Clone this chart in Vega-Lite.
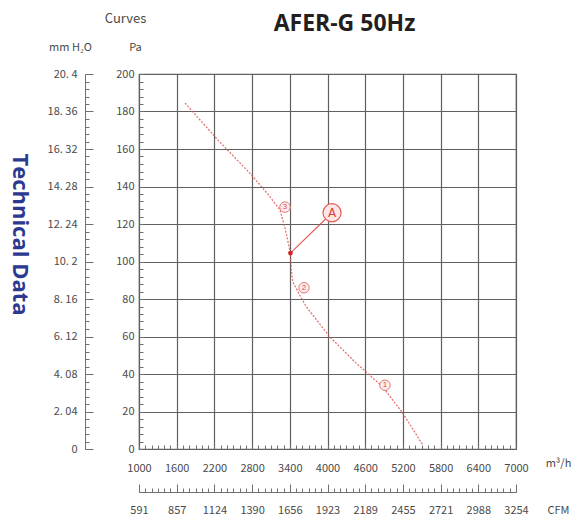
{
  "$schema": "https://vega.github.io/schema/vega-lite/v6.json",
  "width": 377,
  "height": 375,
  "autosize": {"type": "none"},
  "padding": {"left": 139, "top": 74, "right": 61, "bottom": 71},
  "background": "#ffffff",
  "config": {
    "view": {"stroke": "#606060", "strokeWidth": 1.2},
    "axis": {
      "labelFont": "Noto Sans CJK JP",
      "labelFontSize": 11,
      "labelColor": "#4a4a4a",
      "titleFont": "Noto Sans CJK JP",
      "titleFontWeight": "normal",
      "titleFontSize": 11,
      "titleColor": "#4a4a4a",
      "titleAlign": "center",
      "titleBaseline": "middle",
      "labelFlush": false,
      "labelOverlap": false
    }
  },
  "resolve": {"scale": {"x": "independent", "y": "independent"}},
  "layer": [
    {
      "layer": [
        {
          "data": {"values": [
            {"flow": 1732, "pa": 184.5},
            {"flow": 2250, "pa": 165},
            {"flow": 2767, "pa": 147},
            {"flow": 3050, "pa": 136},
            {"flow": 3244, "pa": 127.5},
            {"flow": 3330, "pa": 117},
            {"flow": 3410, "pa": 104.5},
            {"flow": 3425, "pa": 95},
            {"flow": 3450, "pa": 89},
            {"flow": 3560, "pa": 82},
            {"flow": 3660, "pa": 76},
            {"flow": 4040, "pa": 59.7},
            {"flow": 4450, "pa": 46},
            {"flow": 4883, "pa": 33},
            {"flow": 5200, "pa": 19},
            {"flow": 5520, "pa": 2}
          ]},
          "mark": {"type": "line", "color": "#d9534f", "strokeWidth": 1.3, "strokeDash": [2, 1.5], "interpolate": "linear", "opacity": 0.8},
          "encoding": {
            "x": {
              "field": "flow", "type": "quantitative",
              "scale": {"domain": [1000, 7000], "nice": false, "zero": false},
              "axis": {
                "orient": "bottom",
                "values": [1000, 1600, 2200, 2800, 3400, 4000, 4600, 5200, 5800, 6400, 7000],
                "tickCount": 100,
                "format": "d",
                "grid": true, "gridColor": "#606060", "gridWidth": 1.2,
                "ticks": false, "tickSize": 0, "domain": false,
                "labelPadding": 19, "labelBaseline": "middle",
                "title": "m³/h", "titleX": 419, "titleY": 14
              }
            },
            "y": {
              "field": "pa", "type": "quantitative",
              "scale": {"domain": [0, 200], "nice": false, "zero": false},
              "axis": {
                "orient": "left",
                "values": [0, 20, 40, 60, 80, 100, 120, 140, 160, 180, 200],
                "tickCount": 100,
                "grid": true, "gridColor": "#606060", "gridWidth": 1.2,
                "ticks": false, "tickSize": 0, "domain": false,
                "labelPadding": 5,
                "title": "Pa", "titleAngle": 0, "titleX": -4, "titleY": -27
              }
            }
          }
        },
        {
          "data": {"values": [{"flow": 3410, "pa": 104.5}, {"flow": 4072, "pa": 126}]},
          "mark": {"type": "line", "color": "#e0413a", "strokeWidth": 1.2, "opacity": 0.85},
          "encoding": {
            "x": {"field": "flow", "type": "quantitative", "scale": {"domain": [1000, 7000], "nice": false, "zero": false}},
            "y": {"field": "pa", "type": "quantitative", "scale": {"domain": [0, 200], "nice": false, "zero": false}}
          }
        },
        {
          "data": {"values": [{"flow": 3410, "pa": 104.5}]},
          "mark": {"type": "point", "shape": "circle", "size": 22, "filled": true, "color": "#d21f1f", "opacity": 1},
          "encoding": {
            "x": {"field": "flow", "type": "quantitative", "scale": {"domain": [1000, 7000], "nice": false, "zero": false}},
            "y": {"field": "pa", "type": "quantitative", "scale": {"domain": [0, 200], "nice": false, "zero": false}}
          }
        },
        {
          "data": {"values": [
            {"flow": 3324, "pa": 129, "lab": "3"},
            {"flow": 3626, "pa": 86, "lab": "2"},
            {"flow": 4915, "pa": 34, "lab": "1"}
          ]},
          "layer": [
            {
              "mark": {"type": "point", "shape": "circle", "size": 110, "filled": true, "fill": "#fdeceb", "stroke": "#e07a75", "strokeWidth": 1, "opacity": 1},
              "encoding": {
                "x": {"field": "flow", "type": "quantitative", "scale": {"domain": [1000, 7000], "nice": false, "zero": false}},
                "y": {"field": "pa", "type": "quantitative", "scale": {"domain": [0, 200], "nice": false, "zero": false}}
              }
            },
            {
              "mark": {"type": "text", "fontSize": 8, "color": "#d9534f", "baseline": "middle", "align": "center"},
              "encoding": {
                "x": {"field": "flow", "type": "quantitative", "scale": {"domain": [1000, 7000], "nice": false, "zero": false}},
                "y": {"field": "pa", "type": "quantitative", "scale": {"domain": [0, 200], "nice": false, "zero": false}},
                "text": {"field": "lab"}
              }
            }
          ]
        },
        {
          "data": {"values": [{"flow": 4072, "pa": 126, "lab": "A"}]},
          "layer": [
            {
              "mark": {"type": "point", "shape": "circle", "size": 330, "filled": true, "fill": "#fde6e5", "stroke": "#e05a55", "strokeWidth": 1.2, "opacity": 1},
              "encoding": {
                "x": {"field": "flow", "type": "quantitative", "scale": {"domain": [1000, 7000], "nice": false, "zero": false}},
                "y": {"field": "pa", "type": "quantitative", "scale": {"domain": [0, 200], "nice": false, "zero": false}}
              }
            },
            {
              "mark": {"type": "text", "fontSize": 12, "color": "#e0413a", "baseline": "middle", "align": "center", "font": "DejaVu Sans"},
              "encoding": {
                "x": {"field": "flow", "type": "quantitative", "scale": {"domain": [1000, 7000], "nice": false, "zero": false}},
                "y": {"field": "pa", "type": "quantitative", "scale": {"domain": [0, 200], "nice": false, "zero": false}},
                "text": {"field": "lab"}
              }
            }
          ]
        }
      ]
    },
    {
      "data": {"values": [{"v": 0}]},
      "mark": {"type": "rule", "opacity": 0},
      "encoding": {
        "y": {
          "field": "v", "type": "quantitative",
          "scale": {"domain": [0, 50], "nice": false, "zero": false},
          "axis": {
            "orient": "left", "tickCount": 50, "labels": false, "domain": false, "grid": false,
            "ticks": true, "tickColor": "#707070", "tickWidth": 1, "tickSize": -4,
            "title": "Curves", "titleAngle": 0, "titleX": -14, "titleY": -56, "titleFontSize": 13
          }
        }
      }
    },
    {
      "data": {"values": [{"v": 0}]},
      "mark": {"type": "rule", "opacity": 0},
      "encoding": {
        "y": {
          "field": "v", "type": "quantitative",
          "scale": {"domain": [0, 10], "nice": false, "zero": false},
          "axis": {
            "orient": "left", "offset": 54,
            "values": [0, 1, 2, 3, 4, 5, 6, 7, 8, 9, 10],
            "tickCount": 100,
            "labelExpr": "['0','2. 04','4. 08','6. 12','8. 16','10. 2','12. 24','14. 28','16. 32','18. 36','20. 4'][datum.value]",
            "ticks": false, "tickSize": 0, "domain": true, "domainColor": "#707070", "grid": false,
            "labelPadding": 8,
            "title": "mm H₂O", "titleAngle": 0, "titleX": -15, "titleY": -27
          }
        }
      }
    },
    {
      "data": {"values": [{"v": 0}]},
      "mark": {"type": "rule", "opacity": 0},
      "encoding": {
        "y": {
          "field": "v", "type": "quantitative",
          "scale": {"domain": [0, 50], "nice": false, "zero": false},
          "axis": {
            "orient": "left", "offset": 54, "tickCount": 50, "labels": false, "domain": false, "grid": false,
            "ticks": true, "tickColor": "#707070", "tickWidth": 1, "tickSize": -4,
            "title": "Technical Data", "titleAngle": 90, "titleX": -66, "titleY": 160,
            "titleFont": "Open Sans", "titleFontWeight": "bold", "titleFontSize": 22, "titleColor": "#2b3990"
          }
        }
      }
    },
    {
      "data": {"values": [{"v": 0}]},
      "mark": {"type": "rule", "opacity": 0},
      "encoding": {
        "y": {
          "field": "v", "type": "quantitative",
          "scale": {"domain": [0, 10], "nice": false, "zero": false},
          "axis": {
            "orient": "left", "offset": 54, "values": [0, 1, 2, 3, 4, 5, 6, 7, 8, 9, 10],
            "tickCount": 100,
            "labels": false, "domain": false, "grid": false,
            "ticks": true, "tickColor": "#707070", "tickWidth": 1, "tickSize": -8,
            "title": null
          }
        }
      }
    },
    {
      "data": {"values": [{"v": 0}]},
      "mark": {"type": "rule", "opacity": 0},
      "encoding": {
        "x": {
          "field": "v", "type": "quantitative",
          "scale": {"domain": [0, 60], "nice": false, "zero": false},
          "axis": {
            "orient": "bottom", "tickCount": 60, "labels": false, "domain": false, "grid": false,
            "ticks": true, "tickColor": "#707070", "tickWidth": 1, "tickSize": -4,
            "title": "AFER-G 50Hz", "titleX": 205, "titleY": -426,
            "titleFont": "Open Sans", "titleFontWeight": "bold", "titleFontSize": 23, "titleColor": "#231f20"
          }
        }
      }
    },
    {
      "data": {"values": [{"v": 0}]},
      "mark": {"type": "rule", "opacity": 0},
      "encoding": {
        "x": {
          "field": "v", "type": "quantitative",
          "scale": {"domain": [0, 10], "nice": false, "zero": false},
          "axis": {
            "orient": "bottom", "offset": 43,
            "values": [0, 1, 2, 3, 4, 5, 6, 7, 8, 9, 10],
            "tickCount": 100,
            "labelExpr": "['591','857','1124','1390','1656','1923','2189','2455','2721','2988','3254'][datum.value]",
            "ticks": false, "tickSize": 0, "domain": true, "domainColor": "#707070", "grid": false,
            "labelPadding": 18, "labelBaseline": "middle",
            "title": "CFM", "titleX": 419, "titleY": 18
          }
        }
      }
    },
    {
      "data": {"values": [{"v": 0}]},
      "mark": {"type": "rule", "opacity": 0},
      "encoding": {
        "x": {
          "field": "v", "type": "quantitative",
          "scale": {"domain": [0, 60], "nice": false, "zero": false},
          "axis": {
            "orient": "bottom", "offset": 43, "tickCount": 60, "labels": false, "domain": false, "grid": false,
            "ticks": true, "tickColor": "#707070", "tickWidth": 1, "tickSize": -4,
            "title": null
          }
        }
      }
    },
    {
      "data": {"values": [{"v": 0}]},
      "mark": {"type": "rule", "opacity": 0},
      "encoding": {
        "x": {
          "field": "v", "type": "quantitative",
          "scale": {"domain": [0, 10], "nice": false, "zero": false},
          "axis": {
            "orient": "bottom", "offset": 43, "values": [0, 1, 2, 3, 4, 5, 6, 7, 8, 9, 10],
            "tickCount": 100,
            "labels": false, "domain": false, "grid": false,
            "ticks": true, "tickColor": "#707070", "tickWidth": 1, "tickSize": -8,
            "title": null
          }
        }
      }
    }
  ]
}
